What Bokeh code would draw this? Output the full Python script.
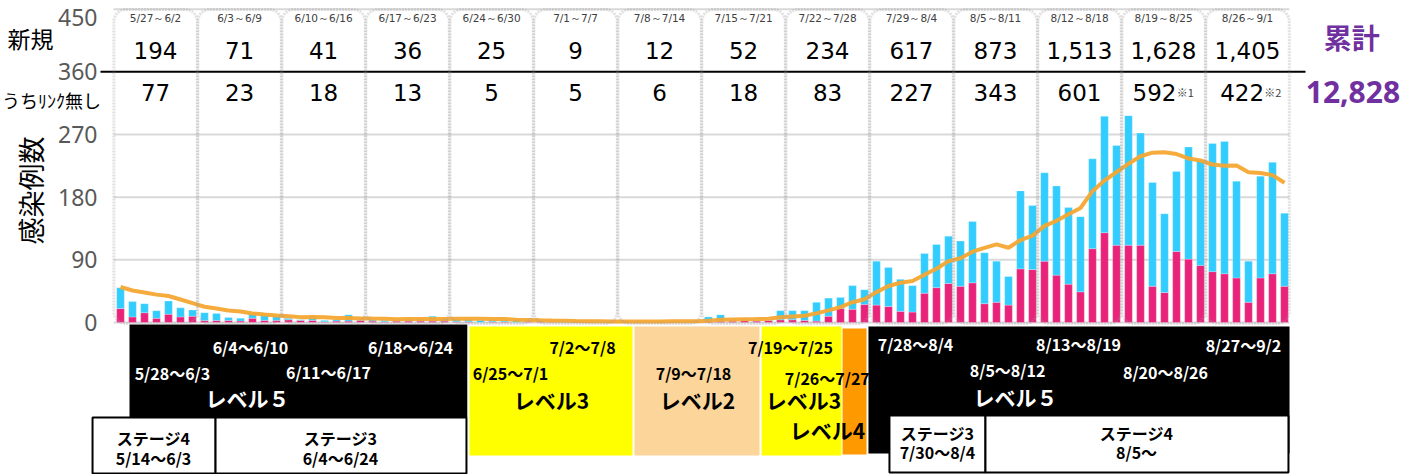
import math
from bokeh.plotting import figure
from bokeh.models import Range1d, BoxAnnotation, ColumnDataSource
from bokeh.core.properties import value
from bokeh.embed import file_html
from bokeh.resources import INLINE

# ---------------- data ----------------
week_labels = ["5/27～6/2", "6/3～6/9", "6/10～6/16", "6/17～6/23", "6/24～6/30",
               "7/1～7/7", "7/8～7/14", "7/15～7/21", "7/22～7/28", "7/29～8/4",
               "8/5～8/11", "8/12～8/18", "8/19～8/25", "8/26～9/1"]
week_new = ["194", "71", "41", "36", "25", "9", "12", "52", "234", "617", "873",
            "1,513", "1,628", "1,405"]
week_unlinked = ["77", "23", "18", "13", "5", "5", "6", "18", "83", "227", "343",
                 "601", "592", "422"]
week_notes = ["", "", "", "", "", "", "", "", "", "", "", "", "※1", "※2"]
cumulative_label = "累計"
cumulative_total = "12,828"
row_labels = ["新規", "うちﾘﾝｸ無し"]
y_title = "感染例数"
y_ticks = [0, 90, 180, 270, 360, 450]

daily_total = [
    50, 30, 27, 17, 31, 21, 18,
    14, 13, 7, 6, 12, 10, 9,
    6, 4, 9, 3, 4, 11, 4,
    4, 3, 4, 5, 5, 9, 6,
    5, 4, 3, 4, 3, 3, 3,
    2, 1, 1, 2, 1, 1, 1,
    2, 2, 1, 2, 2, 1, 2,
    8, 11, 4, 5, 3, 4, 17,
    17, 17, 29, 35, 36, 53, 47,
    88, 79, 62, 53, 99, 112, 124,
    117, 145, 100, 88, 66, 189, 168,
    215, 196, 165, 152, 235, 296, 254,
    297, 272, 201, 156, 217, 252, 233,
    257, 260, 203, 88, 210, 230, 157,
]
daily_unlinked = [
    20, 8, 14, 6, 12, 8, 9,
    3, 3, 3, 2, 6, 3, 3,
    4, 3, 3, 1, 2, 2, 3,
    2, 1, 2, 2, 2, 2, 2,
    1, 1, 0, 1, 1, 0, 1,
    1, 1, 0, 1, 1, 0, 1,
    1, 1, 0, 1, 1, 1, 1,
    2, 2, 2, 3, 2, 3, 4,
    4, 3, 2, 9, 20, 19, 26,
    25, 23, 16, 15, 42, 50, 56,
    52, 57, 27, 29, 25, 77, 76,
    88, 68, 55, 44, 106, 129, 111,
    111, 111, 52, 43, 102, 91, 82,
    73, 70, 64, 29, 64, 70, 52,
]
avg7 = [
    51, 46, 43, 40, 38, 33, 27.7,
    22.6, 20.1, 17.3, 15.7, 13, 11.4, 10.1,
    9, 7.7, 8, 7.6, 6.4, 6.6, 5.9,
    5.6, 5.4, 4.7, 5, 5.1, 4.9, 5.1,
    5.3, 5.4, 5.3, 5.1, 4.9, 4, 3.6,
    3.1, 2.7, 2.4, 2.1, 1.9, 1.6, 1.3,
    1.3, 1.4, 1.4, 1.4, 1.6, 1.6, 1.7,
    2.6, 3.9, 4.3, 4.7, 4.9, 5.3, 7.4,
    8.7, 9.6, 13.1, 17.4, 22.1, 29.1, 33.4,
    43.6, 52.4, 57.1, 59.7, 68.7, 77.1, 88.1,
    92.3, 101.7, 107.1, 112.1, 107.4, 118.4, 124.7,
    138.7, 146, 155.3, 164.4, 188.6, 203.9, 216.1,
    227.9, 238.7, 243.9, 244.4, 241.9, 235.6, 232.6,
    226.9, 225.1, 225.4, 215.7, 214.7, 211.6, 200.7,
]

# level / stage period labels (text, x, y)
level_texts = [
    ("6/4～6/10", 10.83, -34.5), ("6/18～6/24", 24.17, -34.5),
    ("5/28～6/3", 4.33, -73.2), ("6/11～6/17", 17.33, -71.8),
    ("7/28～8/4", 66.25, -31.6), ("8/13～8/19", 79.83, -31.6), ("8/27～9/2", 93.58, -33),
    ("8/5～8/12", 73.92, -68.9), ("8/20～8/26", 87.08, -71.8),
]
level_dark_texts = [
    ("7/2～7/8", 38.5, -34.5), ("6/25～7/1", 32.5, -73.2),
    ("7/9～7/18", 47.75, -73.2), ("7/19～7/25", 55.83, -34.5),
    ("7/26～7/27", 58.9, -80.4),
]
level_names_white = [("レベル５", 10.58, -109.1), ("レベル５", 74.58, -107.7)]
level_names_dark = [("レベル3", 35.92, -110.6), ("レベル2", 48.08, -110.6),
                    ("レベル3", 56.92, -110.6), ("レベル4", 58.92, -155.1)]
stage_texts = [
    ("ステージ4", 2.75, -165.2), ("5/14～6/3", 2.75, -195.3),
    ("ステージ3", 18.33, -165.2), ("6/4～6/24", 18.33, -195.3),
    ("ステージ3", 68.08, -158), ("7/30～8/4", 68.08, -186.7),
    ("ステージ4", 84.67, -158), ("8/5～", 84.67, -186.7),
]

# ---------------- figure ----------------
BLUE = "#33CCFF"
PINK = "#E9237A"
ORANGE = "#F5A633"
GRAY = "#A0A0A0"
PURPLE = "#7030A0"
JP = "Noto Sans CJK JP"
NUM = "DejaVu Sans"

p = figure(width=1407, height=474, output_backend="svg", toolbar_location=None,
           x_range=Range1d(-10.0, 107.25), y_range=Range1d(-218.3, 462.4),
           x_axis_location=None, y_axis_location=None,
           min_border_left=0, min_border_right=0, min_border_top=0, min_border_bottom=0)
p.outline_line_color = None
p.xgrid.visible = False
p.ygrid.visible = False

# y tick labels and title (placed on the value scale)
tick_offsets = [8 if t == max(y_ticks) else 0 for t in y_ticks]
tick_src = ColumnDataSource(dict(x=[-1.917] * len(y_ticks), y=y_ticks,
                                 text=[str(t) for t in y_ticks], yo=tick_offsets))
p.text(x="x", y="y", text="text", y_offset="yo", source=tick_src,
       text_align="right", text_baseline="middle", text_font=value("Noto Sans"),
       text_font_size="23px", text_color="#595959")
p.text(x=[-7.5], y=[189.6], text=[y_title], angle=math.pi / 2, text_align="center",
       text_baseline="middle", text_font=value(JP), text_font_size="27px",
       text_color="black")
p.text(x=[-7.5], y=[407.9], text=[row_labels[0]], text_align="center",
       text_baseline="middle", text_font=value(JP), text_font_size="23px",
       text_color="black")
p.text(x=[-5.75], y=[319.5], text=[row_labels[1]], text_align="center",
       text_baseline="middle", text_font=value(JP), text_font_size="18px",
       text_color="black")

# gridlines
grid_y = [0, 90, 180, 270, 450]
p.segment(x0=[-0.58] * len(grid_y), x1=[97.4] * len(grid_y), y0=grid_y, y1=grid_y,
          line_color="#D9D9D9", line_width=2)

# stacked bars
days = list(range(len(daily_total)))
linked = [t - u for t, u in zip(daily_total, daily_unlinked)]
src = ColumnDataSource(dict(day=days, unlinked=daily_unlinked, linked=linked))
p.vbar_stack(["unlinked", "linked"], x="day", width=0.64, color=[PINK, BLUE],
             line_color="white", line_alpha=0.5, line_width=0.5, source=src)

# 7-day average line
p.line(days, avg7, line_color=ORANGE, line_width=4, line_alpha=0.95)

# week boxes
for w in range(len(week_labels)):
    p.add_layout(BoxAnnotation(left=7 * w - 0.55, right=7 * w + 6.4, bottom=-1.5, top=449.5,
                               fill_alpha=0, line_color=GRAY, line_width=3,
                               line_dash="2 1", border_radius=12))

# header separator line
p.segment(x0=[-1.6667], x1=[98.75], y0=[360], y1=[360], line_color="black", line_width=2)

# week header texts
wc = [7 * w + 2.92 for w in range(len(week_labels))]
p.text(x=wc, y=[436.6] * len(wc), text=week_labels, text_align="center",
       text_baseline="middle", text_font=value(NUM), text_font_size="10.5px",
       text_color="#404040")
p.text(x=wc, y=[390.6] * len(wc), text=week_new, text_align="center",
       text_baseline="middle", text_font=value(NUM), text_font_size="23px",
       text_color="black")
ux = [c - (0.75 if n == "※1" else 0.45 if n == "※2" else 0) for c, n in zip(wc, week_notes)]
p.text(x=ux, y=[330.3] * len(wc), text=week_unlinked, text_align="center",
       text_baseline="middle", text_font=value(NUM), text_font_size="23px",
       text_color="black")
nx = [c + 1.85 for c in ux]
p.text(x=nx, y=[331] * len(wc), text=week_notes, text_align="left",
       text_baseline="middle", text_font=value(JP), text_font_size="11px",
       text_color="#404040")

p.text(x=[102.6], y=[410], text=[cumulative_label], text_align="center",
       text_baseline="middle", text_font=value(JP), text_font_size="28px",
       text_font_style="bold", text_color=PURPLE)
p.text(x=[102.7], y=[330.5], text=[cumulative_total], text_align="center",
       text_baseline="middle", text_font=value("Noto Sans"), text_font_size="30px",
       text_font_style="bold", text_color=PURPLE)

# level bands
bands = [
    (0.75, 28.9, -136.4, -2.9, "black"),
    (29.08, 42.67, -191.0, -5.7, "#FFFF00"),
    (42.83, 53.25, -191.0, -5.7, "#FCD59A"),
    (53.42, 60.08, -191.0, -5.7, "#FFFF00"),
    (60.17, 62.17, -189.6, -8.6, "#FF9900"),
    (62.33, 97.42, -188.1, -5.7, "black"),
]
p.quad(left=[b[0] for b in bands], right=[b[1] for b in bands],
       bottom=[b[2] for b in bands], top=[b[3] for b in bands],
       fill_color=[b[4] for b in bands], line_color=None)

stages = [(-2.33, 7.92, -217.0, -136.4), (7.92, 28.83, -217.0, -136.4),
          (64.08, 72.08, -215.4, -133.6), (72.08, 97.33, -215.4, -133.6)]
p.quad(left=[s[0] for s in stages], right=[s[1] for s in stages],
       bottom=[s[2] for s in stages], top=[s[3] for s in stages],
       fill_color="white", line_color="black", line_width=2)


def txt(items, size, color):
    p.text(x=[t[1] for t in items], y=[t[2] for t in items], text=[t[0] for t in items],
           text_align="center", text_baseline="middle", text_font=value(JP),
           text_font_size=size, text_font_style="bold", text_color=color)


txt(level_texts, "16px", "white")
txt(level_dark_texts, "16px", "black")
txt(level_names_white, "21px", "white")
txt(level_names_dark, "21px", "black")
txt(stage_texts, "16px", "black")

open("out.html", "w").write(file_html(p, INLINE))
